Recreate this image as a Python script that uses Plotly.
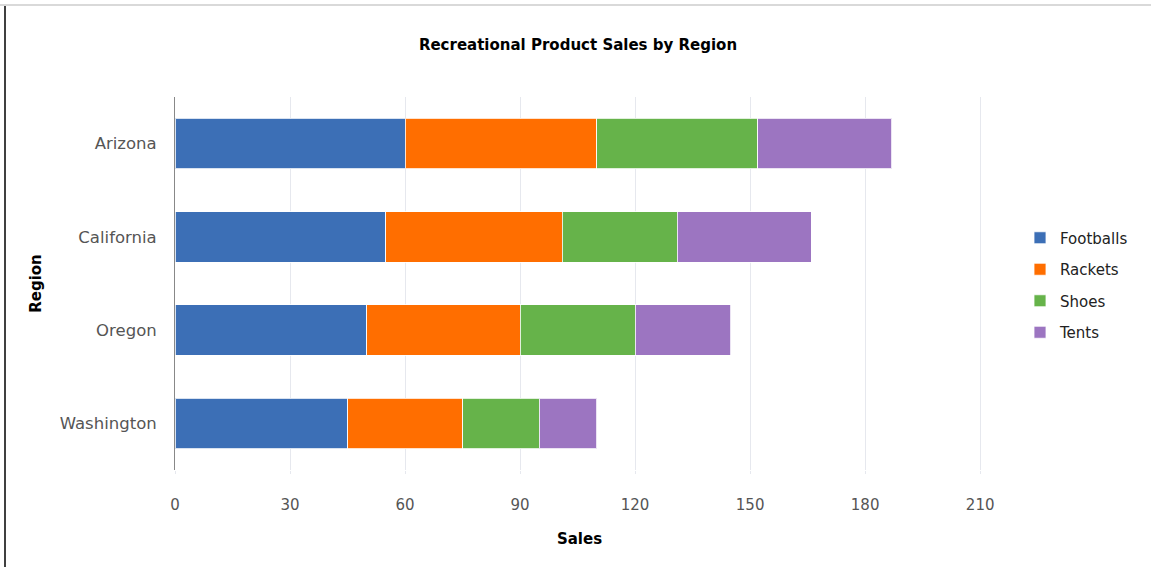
import plotly.graph_objects as go

# data
regions = ["Arizona", "California", "Oregon", "Washington"]
products = ["Footballs", "Rackets", "Shoes", "Tents"]
footballs = [60, 55, 50, 45]
rackets = [50, 46, 40, 30]
shoes = [42, 30, 30, 20]
tents = [35, 35, 25, 15]
x_ticks = [0, 30, 60, 90, 120, 150, 180, 210]

colors = ["#3C6FB6", "#FF6E00", "#66B34A", "#9C75C1"]
FONT = "DejaVu Sans"

W, H = 1151, 567
L, R, T, B = 175, 167, 97, 97


def px_to_paper_x(px):
    return (px - L) / (W - L - R)


def px_to_paper_y(py):
    return (H - B - py) / (H - T - B)


fig = go.Figure()

for name, vals, col in zip(products, [footballs, rackets, shoes, tents], colors):
    fig.add_trace(
        go.Bar(
            y=regions,
            x=vals,
            name=name,
            orientation="h",
            legendgroup=name,
            marker=dict(color=col, line=dict(color="rgba(255,255,255,0.8)", width=1)),
        )
    )

fig.update_layout(
    width=W,
    height=H,
    barmode="stack",
    bargap=0.46,
    plot_bgcolor="white",
    paper_bgcolor="white",
    margin=dict(l=L, r=R, t=T, b=B),
    font=dict(family=FONT, color="#555555", size=15),
    title=dict(
        text="<b>Recreational Product Sales by Region</b>",
        x=px_to_paper_x(578),
        xref="paper",
        xanchor="center",
        y=1 - 45 / H,
        yanchor="middle",
        font=dict(family=FONT, size=15, color="#000000"),
    ),
    legend=dict(
        x=px_to_paper_x(1020),
        xanchor="left",
        y=px_to_paper_y(285),
        yanchor="middle",
        traceorder="grouped",
        tracegroupgap=9,
        font=dict(family=FONT, size=15, color="#222222"),
        bgcolor="rgba(0,0,0,0)",
    ),
    xaxis=dict(
        range=[0, 211],
        tickvals=x_ticks,
        showgrid=True,
        gridcolor="#E6E8EE",
        gridwidth=1,
        zeroline=False,
        showline=False,
        ticks="outside",
        ticklen=3,
        tickcolor="#E6E8EE",
        ticklabelstandoff=18,
        tickfont=dict(size=15, color="#555555"),
        title=dict(
            text="<b>Sales</b>",
            font=dict(family=FONT, size=15, color="#000000"),
            standoff=20,
        ),
        fixedrange=True,
    ),
    yaxis=dict(
        autorange="reversed",
        showgrid=False,
        showline=True,
        linecolor="#888888",
        linewidth=1,
        ticks="",
        ticklabelstandoff=14,
        tickfont=dict(size=16.5, color="#555555"),
        title=dict(
            text="<b>Region</b>",
            font=dict(family=FONT, size=15, color="#000000"),
            standoff=14,
        ),
        fixedrange=True,
    ),
    shapes=[
        # frame lines of the original screenshot
        dict(
            type="line", xref="paper", yref="paper",
            x0=px_to_paper_x(0), x1=px_to_paper_x(W),
            y0=px_to_paper_y(5), y1=px_to_paper_y(5),
            line=dict(color="#CCCCCC", width=1.5),
        ),
        dict(
            type="line", xref="paper", yref="paper",
            x0=px_to_paper_x(5), x1=px_to_paper_x(5),
            y0=px_to_paper_y(6), y1=px_to_paper_y(H),
            line=dict(color="#000000", width=1.5),
        ),
    ],
)

# drop the default page margin so the figure sits at the window origin
fig.write_html(
    "out.html",
    config={"displayModeBar": False},
    post_script="document.body.style.margin='0';",
)
